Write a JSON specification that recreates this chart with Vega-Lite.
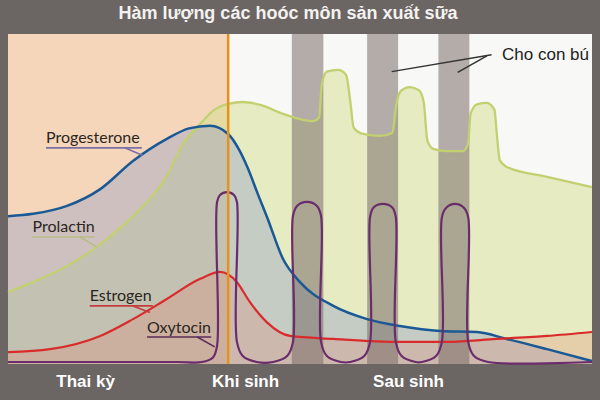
{
  "$schema": "https://vega.github.io/schema/vega-lite/v6.json",
  "description": "Hormone levels for milk production: pregnancy, birth, after birth",
  "width": 584,
  "height": 330,
  "autosize": {"type": "none"},
  "padding": {"left": 8, "right": 8, "top": 34, "bottom": 36},
  "background": "#6b6563",
  "title": {
    "text": "Hàm lượng các hoóc môn sản xuất sữa",
    "color": "#f4f2f0",
    "font": "Liberation Sans",
    "fontSize": 18,
    "fontWeight": "bold",
    "anchor": "middle",
    "dx": -12,
    "offset": 10
  },
  "config": {"view": {"stroke": null, "fill": "#f8f8f6"}},
  "datasets": {
    "phases": [{"phase": "Thai kỳ", "t": 0, "t2": 37.7, "L": 0, "L2": 100}],
    "feeds": [
      {"feed": 1, "t": 48.6, "t2": 54.0, "L": 0, "L2": 100},
      {"feed": 2, "t": 61.5, "t2": 66.8, "L": 0, "L2": 100},
      {"feed": 3, "t": 73.7, "t2": 79.0, "L": 0, "L2": 100}
    ],
    "curves": [
      {"hormone": "Prolactin", "t": 0, "L": 21.8},
      {"hormone": "Prolactin", "t": 4.3, "L": 24.8},
      {"hormone": "Prolactin", "t": 10.1, "L": 29.7},
      {"hormone": "Prolactin", "t": 15.2, "L": 35.5},
      {"hormone": "Prolactin", "t": 21.4, "L": 44.8},
      {"hormone": "Prolactin", "t": 27.2, "L": 57.0},
      {"hormone": "Prolactin", "t": 30.0, "L": 66.7},
      {"hormone": "Prolactin", "t": 32.9, "L": 72.7},
      {"hormone": "Prolactin", "t": 35.3, "L": 77.0},
      {"hormone": "Prolactin", "t": 37.7, "L": 78.8},
      {"hormone": "Prolactin", "t": 40.2, "L": 79.4},
      {"hormone": "Prolactin", "t": 43.2, "L": 78.5},
      {"hormone": "Prolactin", "t": 47.1, "L": 75.8},
      {"hormone": "Prolactin", "t": 50.0, "L": 74.2},
      {"hormone": "Prolactin", "t": 52.2, "L": 73.6},
      {"hormone": "Prolactin", "t": 53.3, "L": 74.8},
      {"hormone": "Prolactin", "t": 53.7, "L": 84.5},
      {"hormone": "Prolactin", "t": 54.6, "L": 88.6},
      {"hormone": "Prolactin", "t": 56.5, "L": 89.1},
      {"hormone": "Prolactin", "t": 57.9, "L": 87.6},
      {"hormone": "Prolactin", "t": 58.6, "L": 79.7},
      {"hormone": "Prolactin", "t": 59.2, "L": 71.6},
      {"hormone": "Prolactin", "t": 60.8, "L": 69.7},
      {"hormone": "Prolactin", "t": 63.7, "L": 69.1},
      {"hormone": "Prolactin", "t": 65.8, "L": 70.0},
      {"hormone": "Prolactin", "t": 66.5, "L": 78.7},
      {"hormone": "Prolactin", "t": 67.3, "L": 82.8},
      {"hormone": "Prolactin", "t": 68.8, "L": 83.9},
      {"hormone": "Prolactin", "t": 70.4, "L": 82.9},
      {"hormone": "Prolactin", "t": 71.2, "L": 79.2},
      {"hormone": "Prolactin", "t": 71.8, "L": 67.8},
      {"hormone": "Prolactin", "t": 72.8, "L": 65.2},
      {"hormone": "Prolactin", "t": 75.2, "L": 64.5},
      {"hormone": "Prolactin", "t": 77.9, "L": 64.5},
      {"hormone": "Prolactin", "t": 78.8, "L": 66.9},
      {"hormone": "Prolactin", "t": 79.2, "L": 75.8},
      {"hormone": "Prolactin", "t": 80.3, "L": 78.7},
      {"hormone": "Prolactin", "t": 82.0, "L": 79.1},
      {"hormone": "Prolactin", "t": 83.3, "L": 77.0},
      {"hormone": "Prolactin", "t": 83.7, "L": 69.7},
      {"hormone": "Prolactin", "t": 84.2, "L": 61.8},
      {"hormone": "Prolactin", "t": 85.4, "L": 59.7},
      {"hormone": "Prolactin", "t": 92.3, "L": 56.7},
      {"hormone": "Prolactin", "t": 100, "L": 53.6},
      {"hormone": "Progesterone", "t": 0, "L": 44.8},
      {"hormone": "Progesterone", "t": 4.3, "L": 45.5},
      {"hormone": "Progesterone", "t": 10.1, "L": 47.9},
      {"hormone": "Progesterone", "t": 15.8, "L": 53.0},
      {"hormone": "Progesterone", "t": 21.4, "L": 61.5},
      {"hormone": "Progesterone", "t": 27.2, "L": 68.2},
      {"hormone": "Progesterone", "t": 31.0, "L": 71.4},
      {"hormone": "Progesterone", "t": 34.6, "L": 72.2},
      {"hormone": "Progesterone", "t": 37.7, "L": 69.7},
      {"hormone": "Progesterone", "t": 39.7, "L": 64.5},
      {"hormone": "Progesterone", "t": 41.0, "L": 59.6},
      {"hormone": "Progesterone", "t": 42.8, "L": 51.4},
      {"hormone": "Progesterone", "t": 44.3, "L": 44.8},
      {"hormone": "Progesterone", "t": 47.1, "L": 31.8},
      {"hormone": "Progesterone", "t": 50.0, "L": 24.8},
      {"hormone": "Progesterone", "t": 55.7, "L": 17.6},
      {"hormone": "Progesterone", "t": 61.5, "L": 13.6},
      {"hormone": "Progesterone", "t": 67.1, "L": 11.5},
      {"hormone": "Progesterone", "t": 74.0, "L": 10.0},
      {"hormone": "Progesterone", "t": 80.3, "L": 9.7},
      {"hormone": "Progesterone", "t": 85.4, "L": 7.6},
      {"hormone": "Progesterone", "t": 92.3, "L": 4.5},
      {"hormone": "Progesterone", "t": 100, "L": 0.9},
      {"hormone": "Estrogen", "t": 0, "L": 3.6},
      {"hormone": "Estrogen", "t": 7.2, "L": 4.5},
      {"hormone": "Estrogen", "t": 15.8, "L": 8.5},
      {"hormone": "Estrogen", "t": 21.4, "L": 13.6},
      {"hormone": "Estrogen", "t": 27.2, "L": 19.7},
      {"hormone": "Estrogen", "t": 32.9, "L": 25.8},
      {"hormone": "Estrogen", "t": 36.3, "L": 27.9},
      {"hormone": "Estrogen", "t": 39.2, "L": 24.8},
      {"hormone": "Estrogen", "t": 41.4, "L": 18.8},
      {"hormone": "Estrogen", "t": 44.3, "L": 12.7},
      {"hormone": "Estrogen", "t": 48.3, "L": 8.5},
      {"hormone": "Estrogen", "t": 55.7, "L": 7.6},
      {"hormone": "Estrogen", "t": 67.1, "L": 6.7},
      {"hormone": "Estrogen", "t": 75.2, "L": 6.7},
      {"hormone": "Estrogen", "t": 83.7, "L": 7.6},
      {"hormone": "Estrogen", "t": 92.3, "L": 8.5},
      {"hormone": "Estrogen", "t": 100, "L": 9.7}
    ],
    "oxytocin": [
      {"i": 1, "t": 0, "L": 0.6},
      {"i": 2, "t": 29.0, "L": 0.6},
      {"i": 3, "t": 33.2, "L": 0.6},
      {"i": 4, "t": 35.1, "L": 2.0},
      {"i": 5, "t": 35.8, "L": 5.5},
      {"i": 6, "t": 35.8, "L": 49.1},
      {"i": 7, "t": 36.3, "L": 51.2},
      {"i": 8, "t": 37.5, "L": 52.1},
      {"i": 9, "t": 38.7, "L": 51.2},
      {"i": 10, "t": 39.2, "L": 49.1},
      {"i": 11, "t": 39.2, "L": 6.7},
      {"i": 12, "t": 40.2, "L": 2.4},
      {"i": 13, "t": 42.6, "L": 0.6},
      {"i": 14, "t": 45.4, "L": 0.6},
      {"i": 15, "t": 47.8, "L": 2.4},
      {"i": 16, "t": 48.8, "L": 6.7},
      {"i": 17, "t": 48.8, "L": 44.9},
      {"i": 18, "t": 49.5, "L": 47.9},
      {"i": 19, "t": 51.2, "L": 49.1},
      {"i": 20, "t": 52.9, "L": 47.9},
      {"i": 21, "t": 53.6, "L": 44.9},
      {"i": 22, "t": 53.6, "L": 6.7},
      {"i": 23, "t": 54.6, "L": 2.4},
      {"i": 24, "t": 57.0, "L": 0.6},
      {"i": 25, "t": 58.6, "L": 0.6},
      {"i": 26, "t": 61.0, "L": 2.4},
      {"i": 27, "t": 62.0, "L": 6.7},
      {"i": 28, "t": 62.0, "L": 44.6},
      {"i": 29, "t": 62.6, "L": 47.4},
      {"i": 30, "t": 64.2, "L": 48.5},
      {"i": 31, "t": 65.8, "L": 47.4},
      {"i": 32, "t": 66.4, "L": 44.6},
      {"i": 33, "t": 66.4, "L": 6.7},
      {"i": 34, "t": 67.4, "L": 2.4},
      {"i": 35, "t": 69.8, "L": 0.6},
      {"i": 36, "t": 70.9, "L": 0.6},
      {"i": 37, "t": 73.3, "L": 2.4},
      {"i": 38, "t": 74.3, "L": 6.7},
      {"i": 39, "t": 74.3, "L": 44.5},
      {"i": 40, "t": 75.0, "L": 47.3},
      {"i": 41, "t": 76.55, "L": 48.5},
      {"i": 42, "t": 78.1, "L": 47.3},
      {"i": 43, "t": 78.8, "L": 44.5},
      {"i": 44, "t": 78.8, "L": 6.7},
      {"i": 45, "t": 79.8, "L": 2.4},
      {"i": 46, "t": 82.2, "L": 0.6},
      {"i": 47, "t": 100, "L": 0.6}
    ],
    "birth": [{"event": "Khi sinh", "t": 37.7, "L": 0, "L2": 100}],
    "labels": [
      {"hormone": "Progesterone", "t": 6.5, "L": 68.5},
      {"hormone": "Prolactin", "t": 4.2, "L": 41.5},
      {"hormone": "Estrogen", "t": 14.0, "L": 20.6},
      {"hormone": "Oxytocin", "t": 23.8, "L": 10.9}
    ],
    "pointers": [
      {"hormone": "Progesterone", "t": 6.5, "L": 65.5, "t2": 22.9, "L2": 65.5},
      {"hormone": "Progesterone", "t": 20.0, "L": 65.5, "t2": 23.1, "L2": 63.2},
      {"hormone": "Prolactin", "t": 4.1, "L": 38.5, "t2": 14.9, "L2": 38.5},
      {"hormone": "Prolactin", "t": 12.3, "L": 38.5, "t2": 15.2, "L2": 35.5},
      {"hormone": "Estrogen", "t": 14.0, "L": 17.6, "t2": 24.8, "L2": 17.6},
      {"hormone": "Estrogen", "t": 21.4, "L": 17.6, "t2": 24.3, "L2": 15.6},
      {"hormone": "Oxytocin", "t": 23.8, "L": 8.2, "t2": 34.8, "L2": 8.2},
      {"hormone": "Oxytocin", "t": 32.4, "L": 8.2, "t2": 35.4, "L2": 5.2}
    ],
    "note": [{"text": "Cho con bú", "t": 84.6, "L": 93.6}],
    "arrows": [
      {"feed": 2, "t": 82.8, "L": 93.7, "t2": 65.7, "L2": 88.6},
      {"feed": 3, "t": 82.0, "L": 93.4, "t2": 77.0, "L2": 88.4}
    ]
  },
  "encoding": {
    "x": {
      "field": "t",
      "type": "quantitative",
      "scale": {"domain": [0, 100], "nice": false, "zero": false},
      "axis": {
        "values": [13.2, 40.6, 68.5],
        "labelExpr": "datum.value < 20 ? 'Thai kỳ' : datum.value < 50 ? 'Khi sinh' : 'Sau sinh'",
        "ticks": false,
        "domain": false,
        "grid": false,
        "title": null,
        "labelColor": "white",
        "labelFont": "Liberation Sans",
        "labelFontSize": 17,
        "labelFontWeight": "bold",
        "labelPadding": 9,
        "labelFlush": false,
        "labelOverlap": false
      }
    },
    "y": {
      "field": "L",
      "type": "quantitative",
      "scale": {"domain": [0, 100], "nice": false},
      "axis": null
    }
  },
  "layer": [
    {
      "data": {"name": "phases"},
      "mark": {"type": "rect", "color": "#f5d6bb"},
      "encoding": {"x2": {"field": "t2"}, "y2": {"field": "L2"}}
    },
    {
      "data": {"name": "curves"},
      "transform": [{"filter": "datum.hormone == 'Prolactin'"}],
      "mark": {"type": "area", "interpolate": "monotone", "color": "#d3de8e", "opacity": 0.5}
    },
    {
      "data": {"name": "curves"},
      "transform": [{"filter": "datum.hormone == 'Progesterone'"}],
      "mark": {"type": "area", "interpolate": "monotone", "color": "#97a2c6", "opacity": 0.42}
    },
    {
      "data": {"name": "curves"},
      "transform": [{"filter": "datum.hormone == 'Estrogen'"}],
      "mark": {"type": "area", "interpolate": "monotone", "color": "#e27a66", "opacity": 0.25}
    },
    {
      "data": {"name": "feeds"},
      "mark": {"type": "rect", "color": "#7a6e69", "opacity": 0.55},
      "encoding": {"x2": {"field": "t2"}, "y2": {"field": "L2"}}
    },
    {
      "data": {"name": "curves"},
      "transform": [{"filter": "datum.hormone == 'Prolactin'"}],
      "mark": {"type": "line", "interpolate": "monotone", "color": "#c3d070", "strokeWidth": 2.3}
    },
    {
      "data": {"name": "curves"},
      "transform": [{"filter": "datum.hormone == 'Progesterone'"}],
      "mark": {"type": "line", "interpolate": "monotone", "color": "#1b5996", "strokeWidth": 2.5}
    },
    {
      "data": {"name": "curves"},
      "transform": [{"filter": "datum.hormone == 'Estrogen'"}],
      "mark": {"type": "line", "interpolate": "monotone", "color": "#d92b2b", "strokeWidth": 2.2}
    },
    {
      "data": {"name": "oxytocin"},
      "mark": {"type": "line", "interpolate": "catmull-rom", "color": "#6b2c6b", "strokeWidth": 2.2},
      "encoding": {"order": {"field": "i", "type": "quantitative"}}
    },
    {
      "data": {"name": "birth"},
      "mark": {"type": "rule", "color": "#e8901c", "strokeWidth": 2.5},
      "encoding": {"y2": {"field": "L2"}}
    },
    {
      "data": {"name": "pointers"},
      "mark": {"type": "rule", "strokeWidth": 1.6},
      "encoding": {
        "x2": {"field": "t2"},
        "y2": {"field": "L2"},
        "color": {
          "field": "hormone",
          "type": "nominal",
          "scale": {
            "domain": ["Progesterone", "Prolactin", "Estrogen", "Oxytocin"],
            "range": ["#7a70a4", "#b7bb86", "#c43c3c", "#5a2c5a"]
          },
          "legend": null
        }
      }
    },
    {
      "data": {"name": "labels"},
      "mark": {"type": "text", "align": "left", "baseline": "middle", "font": "Lato", "fontSize": 16, "color": "#2b2620"},
      "encoding": {"text": {"field": "hormone"}}
    },
    {
      "data": {"name": "arrows"},
      "mark": {"type": "rule", "color": "#333333", "strokeWidth": 1.5},
      "encoding": {"x2": {"field": "t2"}, "y2": {"field": "L2"}}
    },
    {
      "data": {"name": "note"},
      "mark": {"type": "text", "align": "left", "baseline": "middle", "font": "Liberation Sans", "fontSize": 17, "color": "#222222"},
      "encoding": {"text": {"field": "text"}}
    }
  ]
}
